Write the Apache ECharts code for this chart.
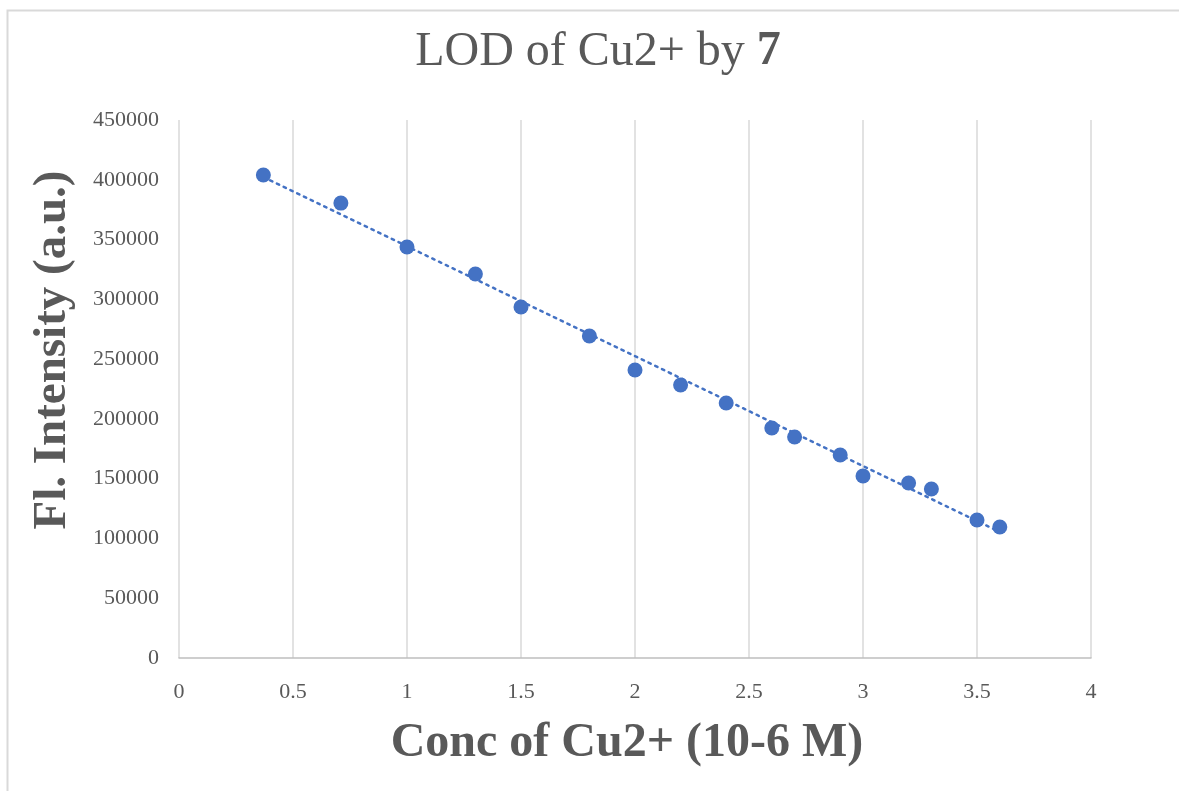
<!DOCTYPE html>
<html>
<head>
<meta charset="utf-8">
<script src="https://cdn.jsdelivr.net/npm/echarts@6/dist/echarts.min.js"></script>
<style>
  html, body { margin: 0; padding: 0; background: #fff; }
  #chart { width: 1179px; height: 791px; }
</style>
</head>
<body>
<div id="chart"></div>
<script>
// Copper(II) concentration (10^-6 M) and measured fluorescence intensity
const concentration = [0.37, 0.71, 1.0, 1.3, 1.5, 1.8, 2.0, 2.2, 2.4, 2.6, 2.7, 2.9, 3.0, 3.2, 3.3, 3.5, 3.6];
const intensity = [404000, 380500, 343800, 321200, 293600, 269300, 240900, 228300, 213300, 192400, 184800, 169800, 152200, 146400, 141400, 115400, 109600];

// Linear trendline end points
const trendX = [0.37, 3.6];
const trendY = [402300, 105400];

const xTicks = [0, 0.5, 1, 1.5, 2, 2.5, 3, 3.5, 4];
const yTicks = [0, 50000, 100000, 150000, 200000, 250000, 300000, 350000, 400000, 450000];

const blue = '#4472C4';
const textGray = '#595959';
const serif = '"Liberation Serif", "Times New Roman", serif';

const chart = echarts.init(document.getElementById('chart'));
chart.setOption({
  animation: false,
  backgroundColor: '#fff',
  graphic: [{
    type: 'polyline',
    shape: { points: [[7.5, 800], [7.5, 10.5], [1190, 10.5]] },
    style: { stroke: '#d9d9d9', lineWidth: 2, fill: null },
    silent: true
  }],
  title: {
    text: 'LOD of Cu2+ by {b|7}',
    left: 593,
    top: 23,
    textAlign: 'center',
    textStyle: {
      fontFamily: serif,
      fontSize: 48,
      fontWeight: 'normal',
      color: textGray,
      rich: {
        b: { fontFamily: serif, fontSize: 48, fontWeight: 'bold', color: textGray }
      }
    }
  },
  grid: { left: 179, right: 88, top: 120, bottom: 133 },
  xAxis: {
    type: 'value',
    min: xTicks[0],
    max: xTicks[xTicks.length - 1],
    interval: 0.5,
    name: 'Conc of Cu2+ (10-6 M)',
    nameLocation: 'middle',
    nameGap: 62,
    nameTextStyle: {
      fontFamily: serif, fontSize: 48, fontWeight: 'bold', color: textGray,
      padding: [0, 16, 0, 0]
    },
    axisLine: { show: true, lineStyle: { color: '#bfbfbf', width: 1.5 } },
    axisTick: { show: false },
    axisLabel: { fontFamily: serif, fontSize: 22, color: textGray, margin: 23 },
    splitLine: { show: true, lineStyle: { color: '#d9d9d9', width: 1.5 } }
  },
  yAxis: {
    type: 'value',
    min: yTicks[0],
    max: yTicks[yTicks.length - 1],
    interval: 50000,
    name: 'Fl. Intensity (a.u.)',
    nameLocation: 'middle',
    nameGap: 103,
    nameTextStyle: {
      fontFamily: serif, fontSize: 47, fontWeight: 'bold', color: textGray,
      padding: [0, 0, 0, 78]
    },
    axisLine: { show: false },
    axisTick: { show: false },
    axisLabel: {
      fontFamily: serif, fontSize: 22, color: textGray, margin: 20,
      formatter: (v) => String(v)
    },
    splitLine: { show: false }
  },
  series: [
    {
      type: 'line',
      data: trendX.map((x, i) => [x, trendY[i]]),
      showSymbol: false,
      symbol: 'none',
      lineStyle: { color: blue, width: 2.5, type: [2.5, 5], cap: 'round' },
      z: 1
    },
    {
      type: 'scatter',
      data: concentration.map((x, i) => [x, intensity[i]]),
      symbol: 'circle',
      symbolSize: 15,
      itemStyle: { color: blue, opacity: 1 },
      z: 2
    }
  ]
});
</script>
</body>
</html>
